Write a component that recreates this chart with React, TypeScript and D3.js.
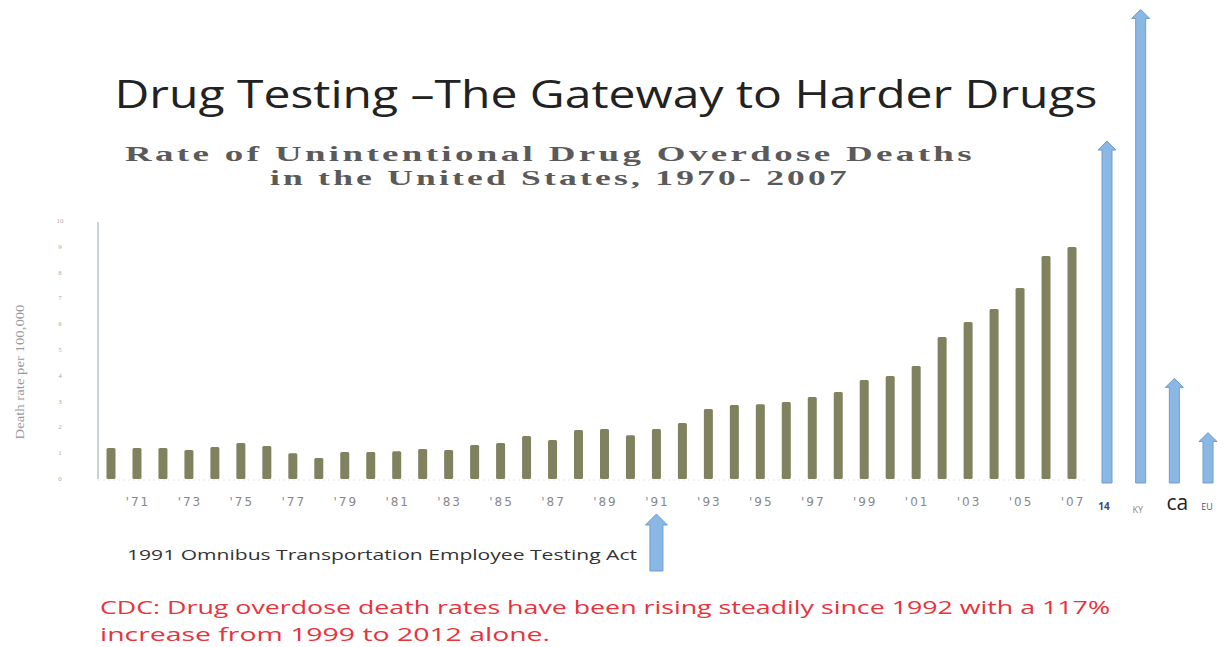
import React from "react";
import * as d3 from "d3";

const years: number[] = d3.range(1970, 2008);
const rates: number[] = [
  1.2, 1.2, 1.2, 1.12, 1.24, 1.4, 1.28, 1.0, 0.81, 1.05,
  1.05, 1.08, 1.16, 1.12, 1.32, 1.4, 1.67, 1.51, 1.9, 1.94,
  1.7, 1.94, 2.17, 2.71, 2.87, 2.9, 2.98, 3.18, 3.37, 3.84,
  3.99, 4.38, 5.5, 6.09, 6.59, 7.4, 8.64, 8.99,
];
const xTickYears: number[] = [1971, 1973, 1975, 1977, 1979, 1981, 1983, 1985, 1987, 1989, 1991, 1993, 1995, 1997, 1999, 2001, 2003, 2005, 2007];
const yTicks: number[] = [0, 1, 2, 3, 4, 5, 6, 7, 8, 9, 10];
const arrowLabels: string[] = ["14", "KY", "ca", "EU"];
const arrowValues: number[] = [13.1, 18.2, 3.9, 1.8];

const W = 1227;
const H = 647;

export default function App() {
  const x = d3.scalePoint<number>().domain(years).range([111, 1072]);
  const y = d3.scaleLinear().domain([0, 10]).range([479, 221]);
  const xa = d3.scalePoint<string>().domain(arrowLabels).range([1107, 1208]);
  const barW = 9;

  const arrowPath = (cx: number, tip: number, bottom: number, shaft: number, head: number, headH: number) => {
    const p = d3.path();
    p.moveTo(cx - shaft / 2, bottom);
    p.lineTo(cx - shaft / 2, tip + headH);
    p.lineTo(cx - head / 2, tip + headH);
    p.lineTo(cx, tip);
    p.lineTo(cx + head / 2, tip + headH);
    p.lineTo(cx + shaft / 2, tip + headH);
    p.lineTo(cx + shaft / 2, bottom);
    p.closePath();
    return p.toString();
  };

  const labelStyle: Record<string, { size: number; fill: string; dy: number; dx: number }> = {
    "14": { size: 10, fill: "#3a4a7a", dy: 0, dx: -3 },
    KY: { size: 9, fill: "#888", dy: 3, dx: -3 },
    ca: { size: 21, fill: "#222", dy: 0, dx: 3 },
    EU: { size: 9, fill: "#555", dy: 0, dx: -1 },
  };

  return (
    <svg width={W} height={H} style={{ position: "absolute", left: 0, top: 0, background: "#fff" }}>
      <text x={606} y={108} textAnchor="middle" fontFamily="'Open Sans', sans-serif" fontSize={38} fill="#222" textLength={983} lengthAdjust="spacingAndGlyphs">
        Drug Testing –The Gateway to Harder Drugs
      </text>
      <text x={550} y={161} textAnchor="middle" fontFamily="'Liberation Serif', serif" fontWeight="bold" fontSize={22} letterSpacing={2} fill="#5a5a5a" textLength={850} lengthAdjust="spacingAndGlyphs">
        Rate of Unintentional Drug Overdose Deaths
      </text>
      <text x={560} y={185} textAnchor="middle" fontFamily="'Liberation Serif', serif" fontWeight="bold" fontSize={22} letterSpacing={2} fill="#5a5a5a" textLength={580} lengthAdjust="spacingAndGlyphs">
        in the United States, 1970- 2007
      </text>

      {/* y axis */}
      <line x1={98} x2={98} y1={y(10) + 1} y2={y(0)} stroke="#b8c4c8" strokeWidth={1.5} />
      <line x1={98} x2={1085} y1={y(0) + 1} y2={y(0) + 1} stroke="#e4e6e8" strokeWidth={1} strokeDasharray="2,3" />
      {yTicks.map((t) => (
        <text key={t} x={60} y={y(t) + 2} textAnchor="middle" fontFamily="'Liberation Serif', serif" fontSize={7} fill="#aaa">
          {t}
        </text>
      ))}
      <text transform={`translate(24,372) rotate(-90)`} textAnchor="middle" fontFamily="'Liberation Serif', serif" fontSize={12} fill="#999" textLength={135} lengthAdjust="spacingAndGlyphs">
        Death rate per 100,000
      </text>

      {/* bars */}
      {years.map((yr, i) => (
        <rect key={yr} x={(x(yr) as number) - barW / 2} y={y(rates[i])} width={barW} height={y(0) - y(rates[i])} fill="#80825f" rx={1.5} />
      ))}

      {/* x labels */}
      {xTickYears.map((yr) => (
        <text key={yr} x={(x(yr) as number) + 1} y={506} textAnchor="middle" fontFamily="'DejaVu Sans', sans-serif" fontSize={12} fill="#888" letterSpacing={2}>
          {"'" + String(yr).slice(2)}
        </text>
      ))}

      {/* blue arrows */}
      {arrowLabels.map((lab, i) => {
        const cx = xa(lab) as number;
        return (
          <path key={lab} d={arrowPath(cx, y(arrowValues[i]), y(0) + 4, 10, 18, 9)} fill="#8ab7e4" stroke="#6e9ed2" strokeWidth={1} />
        );
      })}
      {arrowLabels.map((lab) => {
        const cx = xa(lab) as number;
        const s = labelStyle[lab];
        return (
          <text key={lab} x={cx + s.dx} y={510 + s.dy} textAnchor="middle" fontFamily="'Open Sans', sans-serif" fontSize={s.size} fill={s.fill} fontWeight={lab === "14" ? "bold" : "normal"}>
            {lab}
          </text>
        );
      })}

      {/* 1991 annotation */}
      <text x={127} y={560} fontFamily="'Open Sans', sans-serif" fontSize={14} fill="#333" textLength={510} lengthAdjust="spacingAndGlyphs">
        1991 Omnibus Transportation Employee  Testing  Act
      </text>
      <path d={arrowPath(x(1991) as number, 514, 571, 13, 22, 11)} fill="#8ab7e4" stroke="#6e9ed2" strokeWidth={1} />

      {/* CDC note */}
      <text x={100} y={614} fontFamily="'Open Sans', sans-serif" fontSize={19} fill="#e8323c" textLength={1010} lengthAdjust="spacingAndGlyphs">
        CDC: Drug overdose death rates have been rising steadily since 1992 with a 117%
      </text>
      <text x={100} y={641} fontFamily="'Open Sans', sans-serif" fontSize={19} fill="#e8323c" textLength={450} lengthAdjust="spacingAndGlyphs">
        increase from 1999 to 2012 alone.
      </text>
    </svg>
  );
}
